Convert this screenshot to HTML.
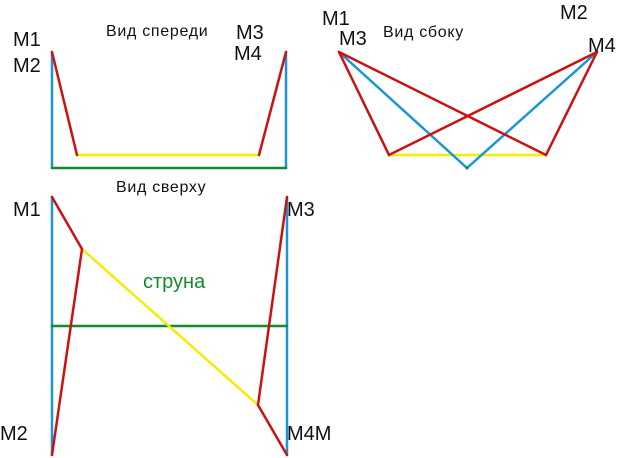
<!DOCTYPE html>
<html><head><meta charset="utf-8"><style>
html,body{margin:0;padding:0;background:#fff;}
svg{display:block;}
text{font-family:"Liberation Sans",sans-serif;fill:#111;}
</style></head><body>
<svg width="640" height="458" viewBox="0 0 640 458" xmlns="http://www.w3.org/2000/svg">
<g stroke-width="2.5" fill="none" stroke-linecap="round">
<line x1="52" y1="52" x2="52" y2="168" stroke="#1a96d8"/>
<line x1="286" y1="52" x2="286" y2="168" stroke="#1a96d8"/>
<line x1="52" y1="168" x2="286" y2="168" stroke="#128a2e"/>
<line x1="77" y1="155" x2="259" y2="155" stroke="#f5ec00"/>
<polyline points="52,52 77,155" stroke="#cc1111"/>
<polyline points="259,155 286,52" stroke="#cc1111"/>
<line x1="389" y1="155" x2="546" y2="155" stroke="#f5ec00"/>
<polyline points="339,52 467,168 597,52" stroke="#1a96d8"/>
<circle cx="467" cy="168" r="1.5" fill="#128a2e" stroke="none"/>
<polyline points="339,52 389,155 597,52" stroke="#cc1111"/>
<polyline points="339,52 546,155 597,52" stroke="#cc1111"/>
<line x1="52" y1="197" x2="52" y2="455" stroke="#1a96d8"/>
<line x1="287" y1="197" x2="287" y2="455" stroke="#1a96d8"/>
<line x1="52" y1="326" x2="287" y2="326" stroke="#128a2e"/>
<line x1="82" y1="249" x2="258" y2="405" stroke="#f5ec00"/>
<polyline points="52,197 82,249 52,455" stroke="#cc1111"/>
<polyline points="287,197 258,405 287,455" stroke="#cc1111"/>
</g>
<g font-size="20">
<text x="13" y="46">M1</text>
<text x="13" y="72">M2</text>
<text x="236" y="39">M3</text>
<text x="234" y="60">M4</text>
<text x="322" y="25">M1</text>
<text x="339" y="45">M3</text>
<text x="560" y="19">M2</text>
<text x="588" y="52">M4</text>
<text x="13" y="216">M1</text>
<text x="287" y="216">M3</text>
<text x="0" y="440">M2</text>
<text x="287" y="440">M4M</text>
</g>
<g font-size="16" letter-spacing="0.7">
<text x="106" y="36">Вид спереди</text>
<text x="383" y="37">Вид сбоку</text>
<text x="116" y="192">Вид сверху</text>
</g>
<text x="143" y="288" font-size="20" style="fill:#128a2e">струна</text>
</svg>
</body></html>
